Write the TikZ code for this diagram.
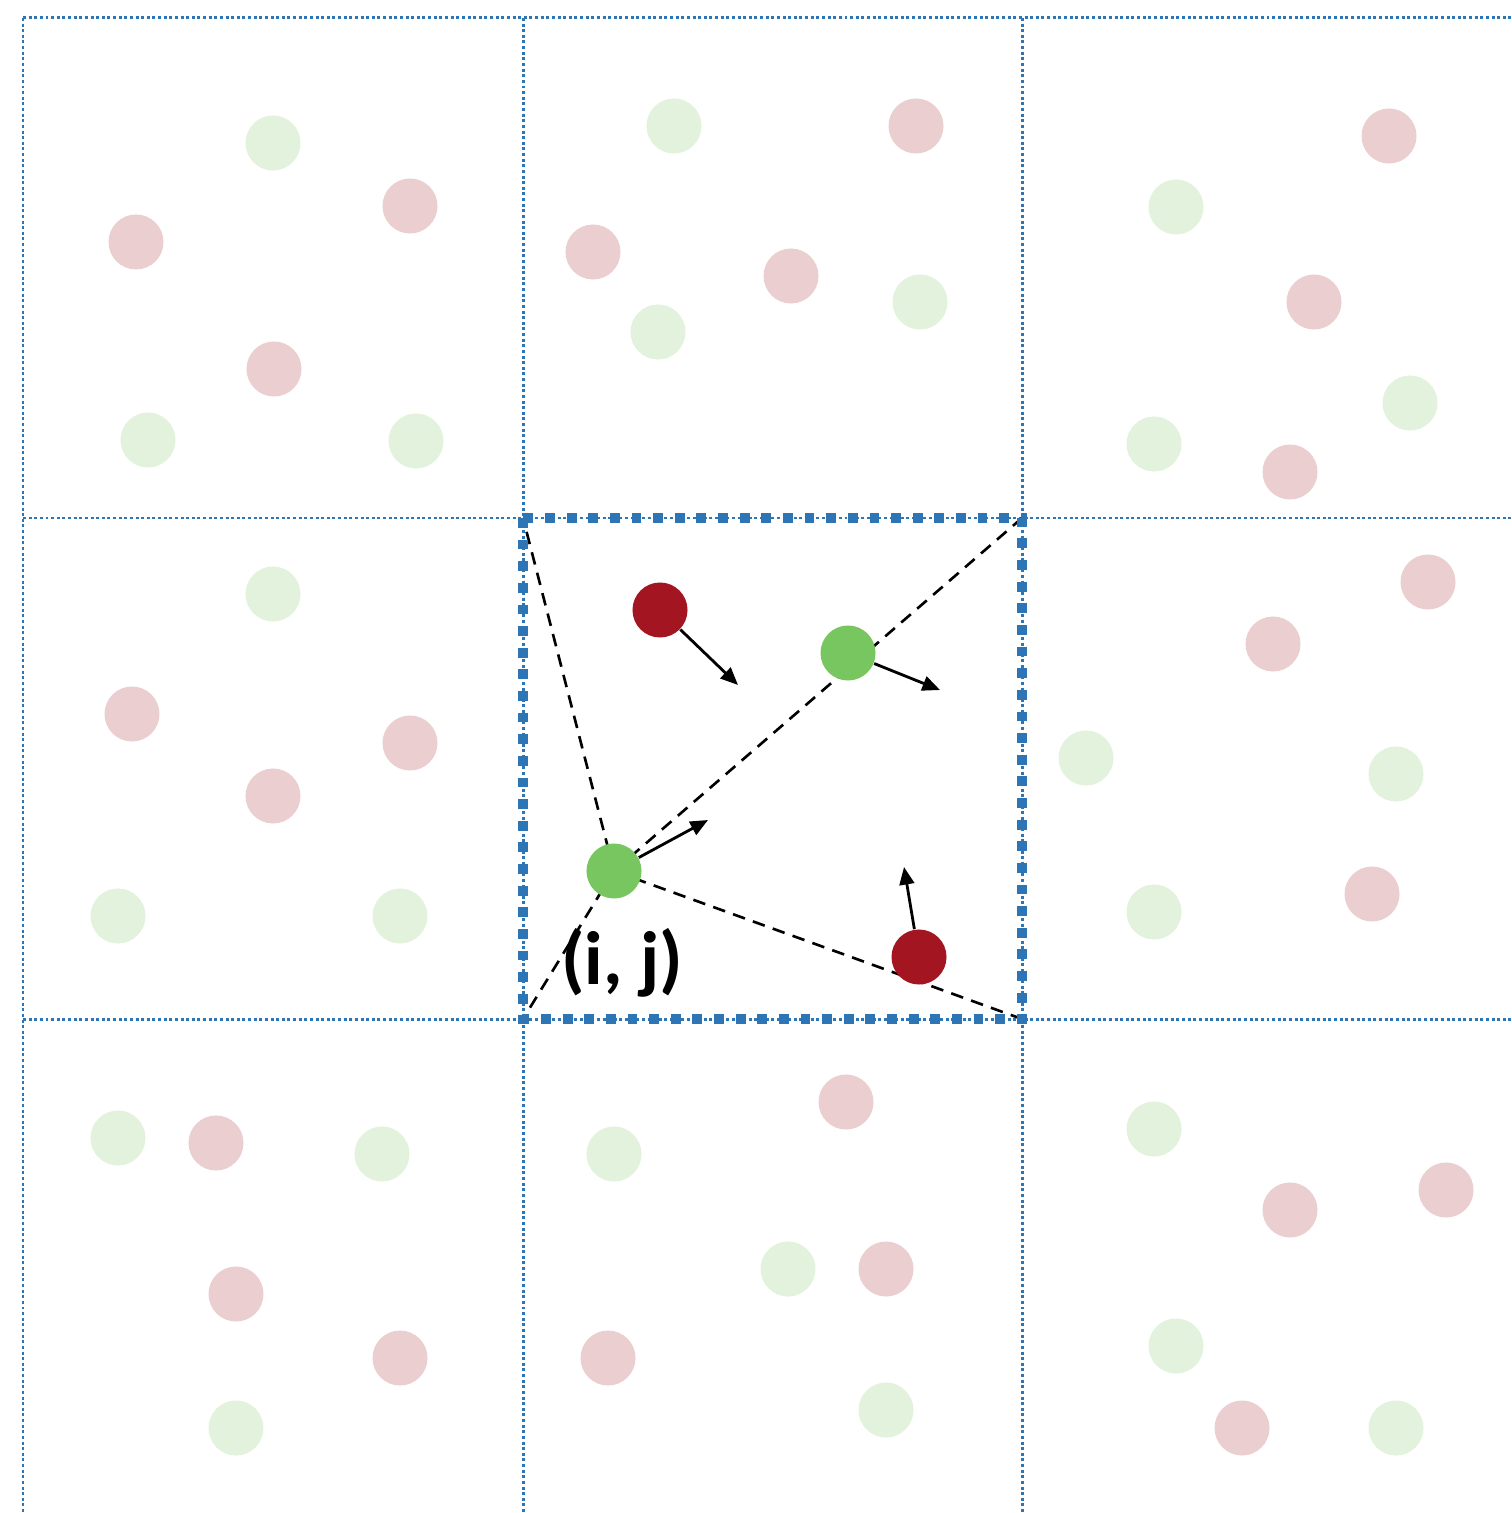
\documentclass[tikz,border=0pt]{standalone}
\usepackage{fontspec}
\setmainfont{Carlito}
\usepackage{tikz}
\usetikzlibrary{arrows.meta, positioning, calc}
\usepackage{xcolor}
\definecolor{gridblue}{RGB}{46,117,182}
\definecolor{darkred}{RGB}{163,21,32}
\definecolor{leafgreen}{RGB}{120,198,96}
\definecolor{fadered}{RGB}{234,206,208}
\definecolor{fadegreen}{RGB}{227,242,221}

\pgfdeclarelayer{background}
\pgfsetlayers{background,main}

\tikzset{
  gridline/.style={gridblue, line width=0.85pt, dash pattern=on 0.85pt off 0.75pt},
  cellborder/.style={gridblue, line width=2.8pt, dash pattern=on 2.8pt off 3.35pt},
  neighbour/.style={black, line width=0.75pt, dash pattern=on 3.6pt off 2.4pt},
  velarrow/.style={black, line width=0.8pt, -{Triangle[length=5pt, width=4.2pt]}},
  redpart/.style={circle, fill=darkred, minimum size=0.55cm, inner sep=0pt},
  greenpart/.style={circle, fill=leafgreen, minimum size=0.55cm, inner sep=0pt},
}

\begin{document}
\begin{tikzpicture}[x=0.01cm, y=-0.01cm]
  \useasboundingbox (0,0) rectangle (1511,1513);

  % grid of cells
  \coordinate (c11) at (523,518);
  \coordinate (c12) at (1022,518);
  \coordinate (c21) at (523,1019);
  \coordinate (c22) at (1022,1019);
  \begin{pgfonlayer}{background}
    \draw[gridline] (23,18) -- (1511,18);
    \draw[gridline] (23,518) -- (1511,518);
    \draw[gridline] (23,1019) -- (1511,1019);
    \draw[gridline] (23,18) -- (23,1513);
    \draw[gridline] (523,18) -- (523,1513);
    \draw[gridline] (1022,18) -- (1022,1513);
  \end{pgfonlayer}

  % neighbouring cells (faded particles)
  \fill[fadegreen] (273,143) circle (0.275cm) (148,440) circle (0.275cm) (416,441) circle (0.275cm);
  \fill[fadered] (410,206) circle (0.275cm) (136,242) circle (0.275cm) (274,369) circle (0.275cm);
  \fill[fadegreen] (674,126) circle (0.275cm) (920,302) circle (0.275cm) (658,332) circle (0.275cm);
  \fill[fadered] (916,126) circle (0.275cm) (593,252) circle (0.275cm) (791,276) circle (0.275cm);
  \fill[fadegreen] (1176,207) circle (0.275cm) (1410,403) circle (0.275cm) (1154,444) circle (0.275cm);
  \fill[fadered] (1389,136) circle (0.275cm) (1314,302) circle (0.275cm) (1290,472) circle (0.275cm);
  \fill[fadegreen] (273,594) circle (0.275cm) (118,916) circle (0.275cm) (400,916) circle (0.275cm);
  \fill[fadered] (132,714) circle (0.275cm) (410,743) circle (0.275cm) (273,796) circle (0.275cm);
  \fill[fadegreen] (1086,758) circle (0.275cm) (1396,774) circle (0.275cm) (1154,912) circle (0.275cm);
  \fill[fadered] (1428,582) circle (0.275cm) (1273,644) circle (0.275cm) (1372,894) circle (0.275cm);
  \fill[fadegreen] (118,1138) circle (0.275cm) (382,1154) circle (0.275cm) (236,1428) circle (0.275cm);
  \fill[fadered] (216,1143) circle (0.275cm) (236,1294) circle (0.275cm) (400,1358) circle (0.275cm);
  \fill[fadegreen] (614,1154) circle (0.275cm) (788,1269) circle (0.275cm) (886,1410) circle (0.275cm);
  \fill[fadered] (846,1102) circle (0.275cm) (886,1269) circle (0.275cm) (608,1358) circle (0.275cm);
  \fill[fadegreen] (1154,1129) circle (0.275cm) (1176,1346) circle (0.275cm) (1396,1428) circle (0.275cm);
  \fill[fadered] (1446,1190) circle (0.275cm) (1290,1210) circle (0.275cm) (1242,1428) circle (0.275cm);

  % cell (i, j)
  \draw[cellborder] (c11) rectangle (c22);
  \node[redpart] (r1) at (660,610) {};
  \node[greenpart] (g2) at (848,653) {};
  \node[greenpart] (g1) at (614,871) {};
  \node[redpart] (r2) at (919,957) {};
  \node[font=\bfseries\fontsize{21.5}{26}\selectfont] (cellij) at (622,963) {(i, j)};

  % lines to the corners
  \begin{pgfonlayer}{background}
    \draw[neighbour] (g1.center) -- (c11);
    \draw[neighbour] (g1.center) -- (c12);
    \draw[neighbour] (g1.center) -- (c21);
    \draw[neighbour] (g1.center) -- (c22);
  \end{pgfonlayer}

  % velocities
  \coordinate (r1v) at (738,685);
  \coordinate (g2v) at (940,690);
  \coordinate (g1v) at (708,820);
  \coordinate (r2v) at (904,867);
  \draw[velarrow] (r1) -- (r1v);
  \draw[velarrow] (g2) -- (g2v);
  \draw[velarrow] (g1) -- (g1v);
  \draw[velarrow] (r2) -- (r2v);
\end{tikzpicture}
\end{document}
